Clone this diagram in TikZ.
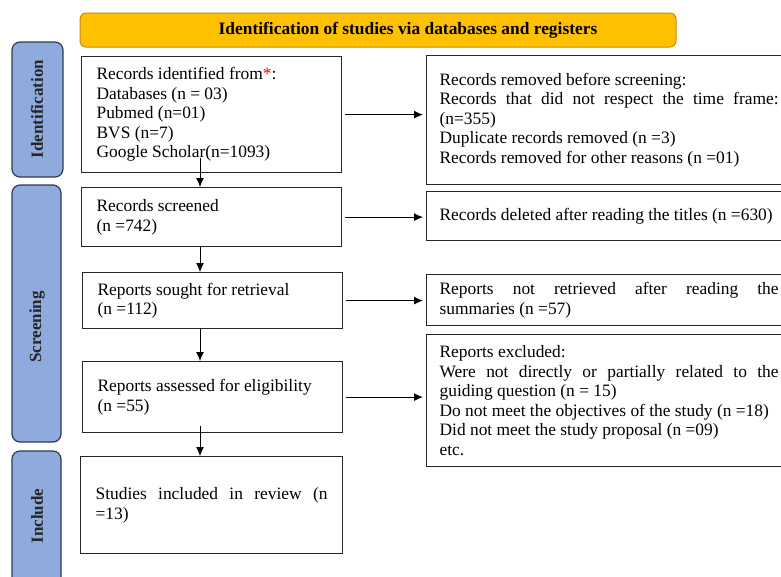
\documentclass[tikz,border=0pt]{standalone}
\usepackage{fontspec}
\setmainfont{Liberation Serif}
\usetikzlibrary{arrows.meta}
\definecolor{gold}{HTML}{FFC000}
\definecolor{goldline}{HTML}{BF9000}
\definecolor{phasefill}{HTML}{8FAADC}
\definecolor{phaseline}{HTML}{2F3B52}
\hyphenpenalty=10000

\begin{document}
\begin{tikzpicture}[x=1pt,y=-1pt,
	every node/.style={font=\fontsize{17.4}{19.5}\selectfont},
	flowbox/.style={draw=black!85, line width=1.2pt, anchor=north west, align=justify, inner xsep=15pt, inner ysep=2pt, text width=230pt},
	sidebox/.style={flowbox, inner xsep=13pt, text width=339pt},
	banner/.style={draw=goldline, fill=gold, line width=1pt, rounded corners=6pt},
	phase/.style={draw=phaseline, fill=phasefill, line width=1.2pt, rounded corners=8pt},
	phaselabel/.style={rotate=90, font=\fontsize{17}{19}\selectfont\bfseries, text=black!85},
	arr/.style={-{Latex[length=9pt,width=8pt]}, line width=1pt}]
	\clip (0,0) rectangle (781,576);
	\draw[banner] (80,13) rectangle (676,47);
	\node[font=\fontsize{17.4}{19.5}\selectfont\bfseries] (title) at (408,30) {Identification of studies via databases and registers};
	\draw[phase] (12,42) rectangle (63,177);
	\node[phaselabel] (lident) at (37,109) {Identification};
	\draw[phase] (12,185) rectangle (61,442);
	\node[phaselabel] (lscreen) at (37,327) {Screening};
	\draw[phase] (12,451) rectangle (61,600);
	\node[phaselabel] (linclude) at (37,516) {Include};
	\node[flowbox, minimum height=116pt] (ident) at (81,56) {Records identified from\textcolor{red}{*}:\\ Databases (n = 03)\\ Pubmed (n=01)\\ BVS (n=7)\\ Google Scholar(n=1093)};
	\node[flowbox, minimum height=59pt] (screen) at (81,187) {Records screened\\ (n =742)};
	\node[flowbox, minimum height=56pt] (sought) at (82,272) {Reports sought for retrieval\\ (n =112)};
	\node[flowbox, minimum height=71pt] (assess) at (82,361) {Reports assessed for eligibility\\ (n =55)};
	\node[flowbox, minimum height=97pt, text width=232pt] (incl) at (80,456) {Studies included in review (n\linebreak =13)};
	\node[sidebox, minimum height=129pt] (rem) at (426,55) {Records removed before screening:\\ Records that did not respect the time frame:\linebreak (n=355)\\ Duplicate records removed (n =3)\\ Records removed for other reasons (n =01)};
	\node[sidebox, minimum height=49pt] (del) at (426,191) {Records deleted after reading the titles (n =630)};
	\node[sidebox, minimum height=51pt] (notret) at (426,274) {Reports not retrieved after reading the\linebreak summaries (n =57)};
	\node[sidebox, minimum height=132pt] (excl) at (426,334) {Reports excluded:\\ Were not directly or partially related to the\linebreak guiding question (n = 15)\\ Do not meet the objectives of the study (n =18)\\ Did not meet the study proposal (n =09)\\ etc.};
	\coordinate (spine) at (200,0);
	\draw[arr] (ident.south -| spine) ++(0,-15) -- (screen.north -| spine);
	\draw[arr] (screen.south -| spine) -- (sought.north -| spine);
	\draw[arr] (sought.south -| spine) -- (assess.north -| spine);
	\draw[arr] (assess.south -| spine) ++(0,-7) -- (incl.north -| spine);
	\draw[arr, shorten <=3pt, shorten >=3pt] (ident.east) -- (ident.east -| rem.west);
	\draw[arr, shorten <=3pt, shorten >=3pt] (screen.east) -- (screen.east -| del.west);
	\draw[arr, shorten <=3pt, shorten >=3pt] (sought.east) -- (sought.east -| notret.west);
	\draw[arr, shorten <=3pt, shorten >=3pt] (assess.east) -- (assess.east -| excl.west);
\end{tikzpicture}
\end{document}
